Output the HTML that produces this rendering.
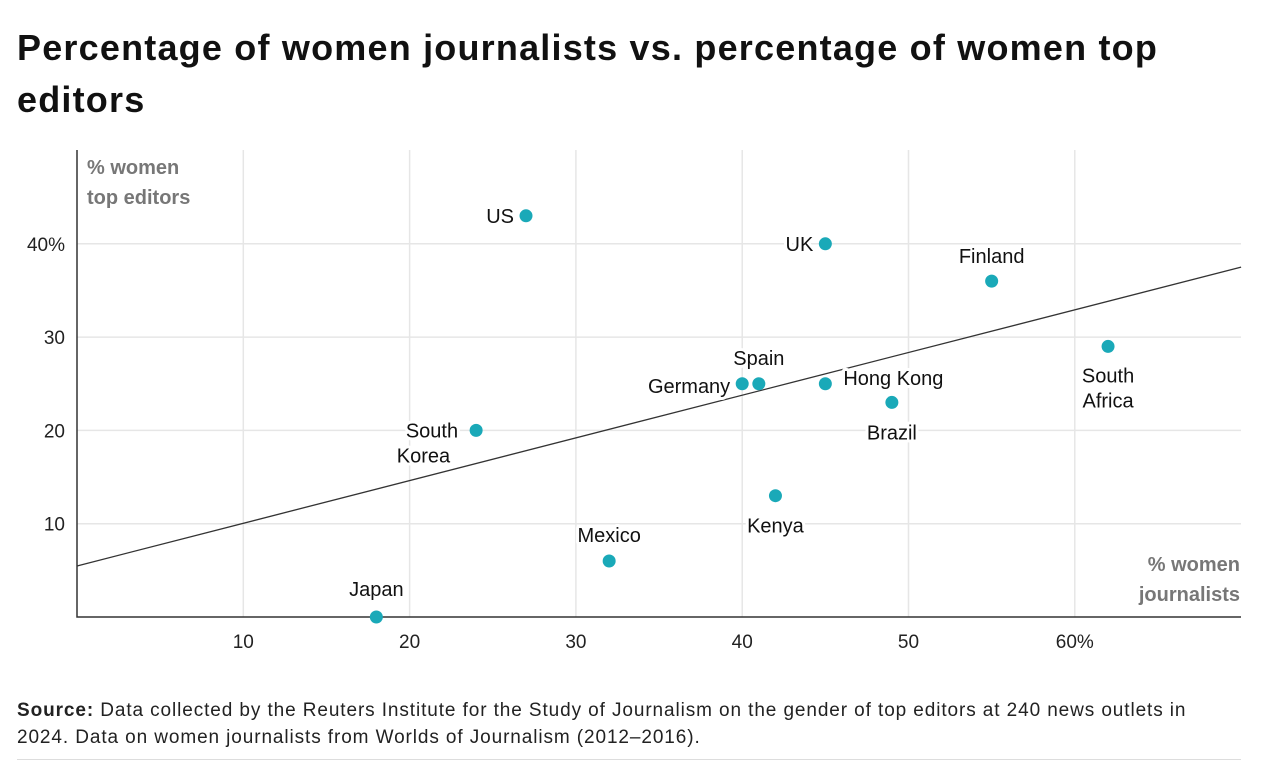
<!DOCTYPE html>
<html><head><meta charset="utf-8"><style>
body{margin:0;background:#fff;width:1268px;height:770px;overflow:hidden;font-family:"Liberation Sans",sans-serif}
h1{position:absolute;left:17px;top:22px;margin:0;font-size:36px;line-height:52px;font-weight:bold;color:#111;width:1240px;letter-spacing:1.2px}
#src{position:absolute;left:17px;top:697px;font-size:19px;line-height:27px;color:#222;width:1250px;letter-spacing:0.9px}
#rule{position:absolute;left:17px;top:759px;width:1224px;height:1px;background:#ddd}
</style></head><body>
<h1>Percentage of women journalists vs. percentage of women top<br>editors</h1>
<svg id="chart" width="1268" height="770" style="position:absolute;left:0;top:0"></svg>
<div id="src"><b>Source:</b> Data collected by the Reuters Institute for the Study of Journalism on the gender of top editors at 240 news outlets in<br>2024. Data on women journalists from Worlds of Journalism (2012–2016).</div>
<div id="rule"></div>
<script>
const countries=["US","UK","Finland","South Africa","Spain","Germany","Hong Kong","Brazil","South Korea","Kenya","Mexico","Japan"];
const journalists=[27,45,55,62,41,40,45,49,24,42,32,18];
const editors=[43,40,36,29,25,25,25,23,20,13,6,0];
const xTicks=[10,20,30,40,50,60];
const xTickLabels=["10","20","30","40","50","60%"];
const yTicks=[10,20,30,40];
const yTickLabels=["10","20","30","40%"];
const trend=[5.47,37.5]; // y at x=0 and x=70
const X=v=>77+v*16.63, Y=v=>617-v*9.33;
const svg=document.getElementById('chart');const NS="http://www.w3.org/2000/svg";
function mk(t,a,p){const e=document.createElementNS(NS,t);for(const k in a)e.setAttribute(k,a[k]);(p||svg).appendChild(e);return e}
xTicks.forEach((t,i)=>{
 const l=mk('line',{x1:X(t),x2:X(t),y1:150,y2:617,stroke:'#e6e6e6','stroke-width':1.5});
 
 
 const tx=mk('text',{x:X(t),y:648,'text-anchor':'middle','font-size':19,fill:'#222'});tx.textContent=xTickLabels[i];
 
 
});
yTicks.forEach((t,i)=>{
 const l=mk('line',{x1:77,x2:1241,y1:Y(t),y2:Y(t),stroke:'#e6e6e6','stroke-width':1.5});
 
 
 const tx=mk('text',{x:65,y:Y(t)+7,'text-anchor':'end','font-size':19,fill:'#222'});tx.textContent=yTickLabels[i];
 
 
});
const ax=mk('path',{d:'M77 150V617H1241',stroke:'#333','stroke-width':1.5,fill:'none'});


const tl=mk('line',{x1:X(0),y1:Y(trend[0]),x2:X(70),y2:Y(trend[1]),stroke:'#333','stroke-width':1.3});


[["% women",87,174,'start'],["top editors",87,204,'start'],["% women",1240,571,'end'],["journalists",1240,601,'end']].forEach(a=>{
 const t=mk('text',{x:a[1],y:a[2],'text-anchor':a[3],'font-size':20,'font-weight':'bold',fill:'#777'});t.textContent=a[0];
 
 
});
const lab={"US":[-12,7,'end'],"UK":[-12,7,'end'],"Finland":[0,-18,'middle'],"South Africa":[0,36,'middle'],"Spain":[0,-19,'middle'],"Germany":[-12,9,'end'],"Hong Kong":[18,1,'start'],"Brazil":[0,37,'middle'],"South Korea":[-18,7,'end'],"Kenya":[0,37,'middle'],"Mexico":[0,-19,'middle'],"Japan":[0,-21,'middle']};
countries.forEach((c,i)=>{
 const cx=X(journalists[i]),cy=Y(editors[i]);
 const o=lab[c];
 const t=mk('text',{x:cx+o[0],y:cy+o[1],'text-anchor':o[2],'font-size':20,fill:'#111',stroke:'#fff','stroke-width':6,'paint-order':'stroke','stroke-linejoin':'round'});
 
 
 if(c==="South Korea"||c==="South Africa"){const w=c.split(' ');
  const a=mk('tspan',{x:cx+o[0]},t);a.textContent=w[0];
  const b=mk('tspan',{x:c==="South Korea"?cx+o[0]-8:cx+o[0],dy:25},t);b.textContent=w[1];}
 else t.textContent=c;
});
countries.forEach((c,i)=>{
 const p=mk('circle',{cx:X(journalists[i]),cy:Y(editors[i]),r:6.5,fill:'#1aa9b8'});
 
 
});
</script>
</body></html>
